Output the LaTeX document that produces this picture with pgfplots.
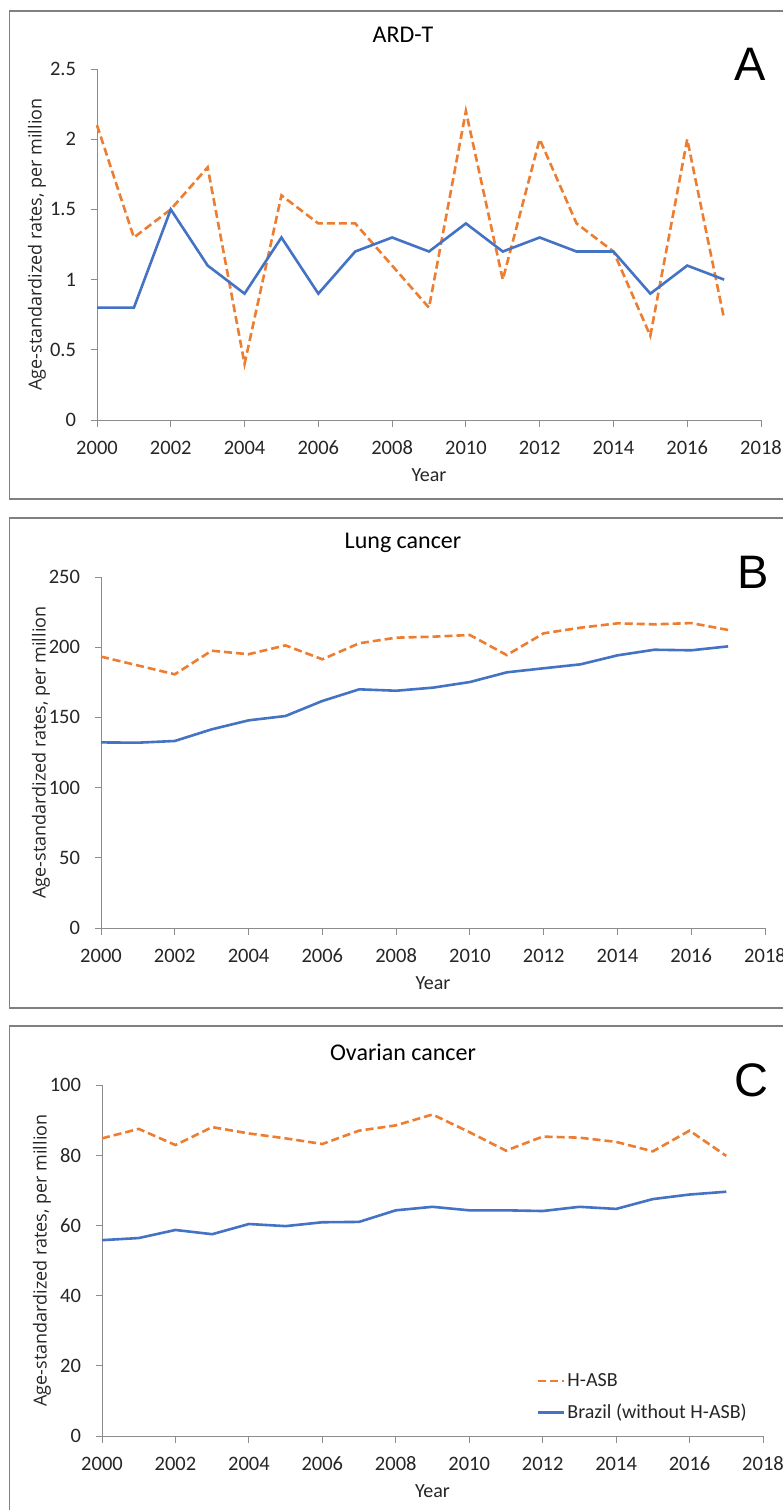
\documentclass[border=0pt]{standalone}
\usepackage{pgfplots}
\pgfplotsset{compat=1.18}
\usepackage{fontspec}
\setmainfont{Carlito}
\newfontfamily\opensans{Open Sans}
\newfontfamily\arialf{Liberation Sans}
\definecolor{hasb}{HTML}{ED7D31}
\definecolor{brazil}{HTML}{4472C4}
\definecolor{axisgray}{HTML}{8C8C8C}
\definecolor{framegray}{HTML}{808080}
\definecolor{ticktext}{HTML}{262626}

\pgfplotsset{
  panel/.style={
    scale only axis, width=664pt, height=351pt, anchor=south west,
    xmin=2000, xmax=2018, xtick={2000,2002,...,2018},
    axis x line=bottom, axis y line=left,
    axis line style={-, draw=axisgray, line width=1pt},
    tick align=outside, major tick length=6.5pt,
    tick style={draw=axisgray, line width=1pt},
    /pgf/number format/assume math mode=true,
    /pgf/number format/1000 sep={},
    tick label style={font=\fontsize{20.5}{24}\selectfont, text=ticktext},
    xticklabel style={anchor=center, yshift=-21pt, text height=13pt, text depth=0pt},
    yticklabel style={xshift=-11pt},
    xlabel={Year}, ylabel={Age-standardized rates, per million},
    xlabel style={at={(axis description cs:0.5,0)}, anchor=center, yshift=-55pt,
      font=\fontsize{20}{24}\selectfont, text=ticktext},
    ylabel style={at={(axis description cs:0,0.5)}, anchor=center, yshift=60pt,
      font=\opensans\fontsize{18}{21}\selectfont, text=ticktext},
    clip=false,
  },
  hasbline/.style={hasb, line width=2.6pt, dash pattern=on 8pt off 4pt},
  brline/.style={brazil, line width=2.6pt},
}

\pgfplotstableread{
year hasb brazil
2000 2.1 0.8
2001 1.3 0.8
2002 1.5 1.5
2003 1.8 1.1
2004 0.4 0.9
2005 1.6 1.3
2006 1.4 0.9
2007 1.4 1.2
2008 1.1 1.3
2009 0.8 1.2
2010 2.2 1.4
2011 1.0 1.2
2012 2.0 1.3
2013 1.4 1.2
2014 1.2 1.2
2015 0.6 0.9
2016 2.0 1.1
2017 0.72 1.0
}\ardt

\pgfplotstableread{
year hasb brazil
2000 193.3 132.2
2001 187.0 132.0
2002 180.7 133.2
2003 197.5 141.5
2004 195.0 147.9
2005 201.3 151.0
2006 191.4 161.7
2007 202.8 170.0
2008 206.8 169.0
2009 207.5 171.2
2010 208.7 175.2
2011 194.4 182.1
2012 209.9 185.0
2013 213.9 187.8
2014 217.0 194.2
2015 216.3 198.2
2016 217.2 197.8
2017 212.3 200.6
}\lung

\pgfplotstableread{
year hasb brazil
2000 84.8 55.8
2001 87.5 56.4
2002 82.9 58.7
2003 88.0 57.5
2004 86.2 60.4
2005 84.8 59.8
2006 83.2 60.9
2007 87.0 61.0
2008 88.5 64.3
2009 91.6 65.3
2010 86.6 64.3
2011 81.3 64.3
2012 85.3 64.1
2013 85.0 65.3
2014 83.8 64.7
2015 81.1 67.5
2016 87.0 68.8
2017 79.8 69.6
}\ovarian

\begin{document}
\begin{tikzpicture}
\useasboundingbox (0pt,0pt) rectangle (783pt,-1510pt);
\fill[white] (0pt,0pt) rectangle (783pt,-1510pt);
% frames
\draw[framegray, line width=1.5pt] (9.5pt,-11pt) rectangle (810pt,-499pt);
\draw[framegray, line width=1.5pt] (9.5pt,-518pt) rectangle (810pt,-1008pt);
\draw[framegray, line width=1.5pt] (9.5pt,-1026pt) rectangle (810pt,-1530pt);

% Panel A
\begin{axis}[panel, at={(97pt,-420pt)}, ymin=0, ymax=2.5, ytick={0,0.5,...,2.5}]
\addplot[hasbline] table[x=year, y=hasb] {\ardt};
\addplot[brline] table[x=year, y=brazil] {\ardt};
\end{axis}
\node[font=\fontsize{24}{29}\selectfont, text=black] at (403pt,-35pt) {ARD-T};
\node[font=\arialf\fontsize{47}{50}\selectfont] at (750pt,-64pt) {A};

% Panel B
\begin{axis}[panel, at={(101pt,-928pt)}, ymin=0, ymax=250, ytick={0,50,...,250}]
\addplot[hasbline] table[x=year, y=hasb] {\lung};
\addplot[brline] table[x=year, y=brazil] {\lung};
\end{axis}
\node[font=\fontsize{24}{29}\selectfont, text=black] at (403pt,-543pt) {Lung cancer};
\node[font=\arialf\fontsize{47}{50}\selectfont] at (753pt,-572pt) {B};

% Panel C
\begin{axis}[panel, at={(102pt,-1436pt)}, width=661pt, ymin=0, ymax=100, ytick={0,20,...,100},
  legend style={draw=none, fill=white, at={(axis description cs:1,0.004)}, anchor=south east,
    font=\fontsize{20}{24}\selectfont, text=ticktext, row sep=12pt, inner xsep=14pt, inner ysep=12pt},
  legend cell align=left,
  legend image code/.code={\draw[#1] (0pt,0pt) -- (26pt,0pt);}]
\addplot[hasbline] table[x=year, y=hasb] {\ovarian};
\addlegendentry{H-ASB}
\addplot[brline] table[x=year, y=brazil] {\ovarian};
\addlegendentry{Brazil (without H-ASB)}
\end{axis}
\node[font=\fontsize{24}{29}\selectfont, text=black] at (403pt,-1052pt) {Ovarian cancer};
\node[font=\arialf\fontsize{47}{50}\selectfont] at (751pt,-1080pt) {C};
\end{tikzpicture}
\end{document}
